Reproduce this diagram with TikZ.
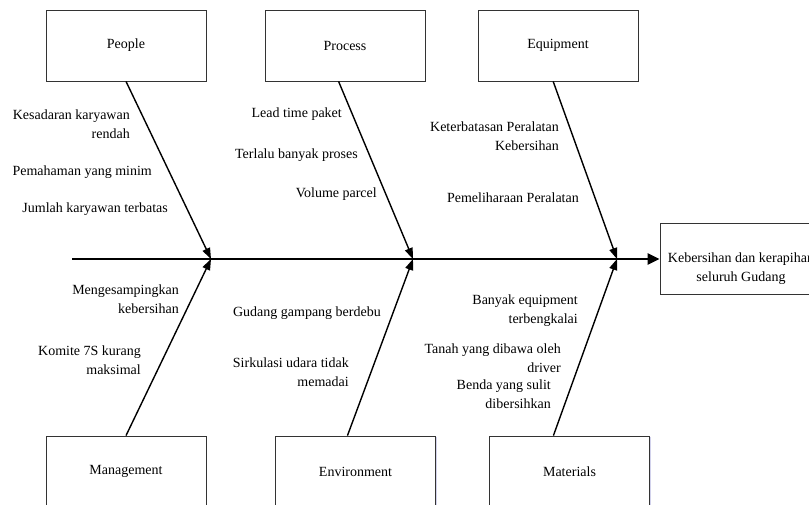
\documentclass[tikz,border=0pt]{standalone}
\usepackage{fontspec}
\setmainfont{Liberation Serif}
\usetikzlibrary{arrows.meta,calc,shadows}
\begin{document}
\begin{tikzpicture}[x=1pt,y=-1pt,
  catbox/.style={draw=black!80, line width=0.8pt, fill=white, minimum width=160pt, minimum height=71pt, inner sep=0pt,
    drop shadow={opacity=0.25, shadow xshift=1pt, shadow yshift=-1.2pt, fill=blue!40!gray}},
  lbl/.style={font=\fontsize{14}{19}\selectfont, inner sep=0pt, align=right},
  bone/.style={line width=1.4pt, -{Triangle[length=11pt,width=8pt]}},
  spine/.style={line width=2.8pt, -{Triangle[length=12pt,width=11pt]}, shorten >=0pt}
]
\useasboundingbox (0,0) rectangle (809,504);
% category boxes
\node[catbox] (P) at (126,45.5) {};
\node[lbl] (Pt) at (126,45.5) {People};
\node[catbox] (Pr) at (345,45.5) {};
\node[lbl] (Prt) at (345,45.5) {Process};
\node[catbox] (Eq) at (558,45.5) {};
\node[lbl] (Eqt) at (558,45.5) {Equipment};
\node[catbox] (M) at (126,471.5) {};
\node[lbl] (Mt) at (126,471.5) {Management};
\node[catbox] (En) at (355.5,471.5) {};
\node[lbl] (Ent) at (355.5,471.5) {Environment};
\node[catbox] (Ma) at (569.5,471.5) {};
\node[lbl] (Mat) at (569.5,471.5) {Materials};
% effect
\node[catbox, minimum width=162pt] (E) at (741,258.5) {};
\node[lbl, align=center] (Et) at (741,269) {Kebersihan dan kerapihan\\seluruh Gudang};
% spine
\coordinate (s) at (72,259);
\coordinate (j1) at (211,259);
\coordinate (j2) at (413,259);
\coordinate (j3) at (617,259);
\draw[spine] (s) -- (E.west |- s);
% bones
\draw[bone] (P.south) -- (j1);
\draw[bone] ($(Pr.south west)!0.46!(Pr.south east)$) -- (j2);
\draw[bone] ($(Eq.south west)!0.47!(Eq.south east)$) -- (j3);
\draw[bone] (M.north) -- (j1);
\draw[bone] ($(En.north west)!0.45!(En.north east)$) -- (j2);
\draw[bone] ($(Ma.north west)!0.40!(Ma.north east)$) -- (j3);
% causes: People
\node[lbl, anchor=east] (c1) at (130,124) {Kesadaran karyawan\\rendah};
\node[lbl, anchor=east] (c2) at (152,172) {Pemahaman yang minim};
\node[lbl, anchor=east] (c3) at (168,209) {Jumlah karyawan terbatas};
% Process
\node[lbl, anchor=east] (c4) at (342,114) {Lead time paket};
\node[lbl, anchor=east] (c5) at (358,155) {Terlalu banyak proses};
\node[lbl, anchor=east] (c6) at (377,194) {Volume parcel};
% Equipment
\node[lbl, anchor=east] (c7) at (559,136) {Keterbatasan Peralatan\\Kebersihan};
\node[lbl, anchor=east] (c8) at (579,198) {Pemeliharaan Peralatan};
% Management
\node[lbl, anchor=east] (c9) at (179,299.5) {Mengesampingkan\\kebersihan};
\node[lbl, anchor=east] (c10) at (141,360.5) {Komite 7S kurang\\maksimal};
% Environment
\node[lbl, anchor=east] (c11) at (381,313) {Gudang gampang berdebu};
\node[lbl, anchor=east] (c12) at (349,372) {Sirkulasi udara tidak\\memadai};
% Materials
\node[lbl, anchor=east] (c13) at (578,311) {Banyak equipment\\terbengkalai};
\node[lbl, anchor=east] (c14) at (561,358.5) {Tanah yang dibawa oleh\\driver};
\node[lbl, anchor=east] (c15) at (551,394) {Benda yang sulit\\dibersihkan};
\end{tikzpicture}
\end{document}
